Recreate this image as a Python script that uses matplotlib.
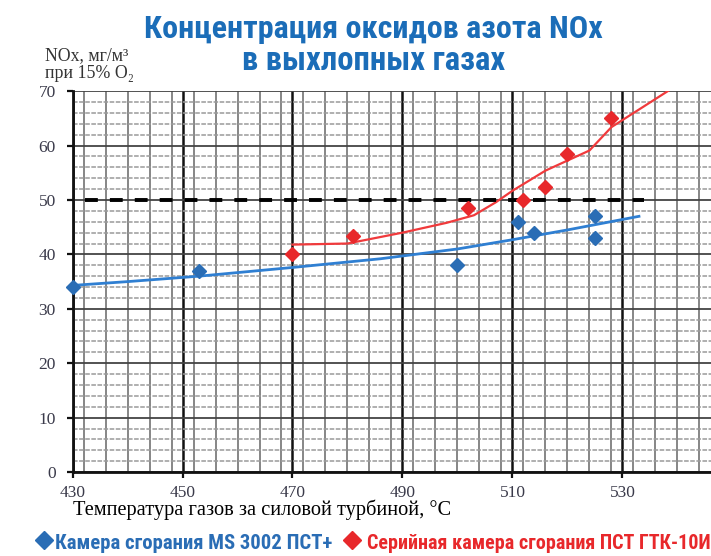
import matplotlib
matplotlib.use("Agg")
import matplotlib.pyplot as plt
import matplotlib.font_manager as fm
from matplotlib.lines import Line2D
from matplotlib.ticker import MultipleLocator

# --- data ---
blue_x = [430, 453, 500, 511, 514, 525, 525]
blue_y = [34.0, 37.0, 38.0, 46.0, 44.0, 47.0, 43.0]

red_x = [470, 481, 502, 512, 516, 520, 528]
red_y = [40.0, 43.4, 48.6, 50.0, 52.3, 58.5, 65.0]

# trend curves
blue_line_x = [430, 440, 453, 470, 486, 500, 510, 520, 533]
blue_line_y = [34.3, 35.0, 36.0, 37.6, 39.2, 41.0, 42.7, 44.5, 47.0]

red_line_x = [470, 480, 490, 498, 503, 507, 510, 516, 524, 528, 539]
red_line_y = [41.8, 42.0, 44.0, 45.8, 47.2, 49.6, 51.7, 55.4, 59.1, 63.4, 70.5]

limit_y = 50
limit_x = [432.3, 534]

x_ticks = [430, 450, 470, 490, 510, 530]
y_ticks = [0, 10, 20, 30, 40, 50, 60, 70]

title_color = '#1b6db8'
blue = '#2a6db5'
red = '#e8282b'

# pick a condensed sans with Cyrillic, whatever is installed
installed = {f.name for f in fm.fontManager.ttflist}
narrow = [n for n in ['Roboto Condensed', 'PT Sans Narrow', 'Fira Sans Condensed',
                      'Open Sans Condensed', 'Liberation Sans Narrow',
                      'Sofia Sans Condensed'] if n in installed][:1] + ['DejaVu Sans']
serif = ['Liberation Serif', 'DejaVu Serif']

fig = plt.figure(figsize=(7.11, 5.56), dpi=100)
ax = fig.add_axes([0.102, 0.151, 0.898, 0.685])

ax.set_xlim(430, 546.1)
ax.set_ylim(0, 70)

ax.xaxis.set_minor_locator(MultipleLocator(4))
ax.yaxis.set_minor_locator(MultipleLocator(2))
ax.set_xticks(x_ticks)
ax.set_yticks(y_ticks)

ax.xaxis.grid(True, which='major', color='#111111', lw=1.8)
ax.xaxis.grid(True, which='minor', color='#666666', lw=1.1)
ax.yaxis.grid(True, which='major', color='#444444', lw=1.3)
ax.yaxis.grid(True, which='minor', color='#9a9a9a', lw=1.1, ls=(0, (3, 1)))
ax.set_axisbelow(True)

for s in ['top', 'right']:
    ax.spines[s].set_visible(False)
for s in ['left', 'bottom']:
    ax.spines[s].set_linewidth(2)
    ax.spines[s].set_color('#111111')

ax.tick_params(which='major', length=4, width=1.6, color='#111111', pad=5,
               labelsize=12.5, labelcolor='#3a3a4a')
ax.tick_params(axis='y', pad=8)
ax.tick_params(which='minor', length=0)
for lab in ax.get_xticklabels() + ax.get_yticklabels():
    lab.set_family(serif)

# lines and points
ax.plot(blue_line_x, blue_line_y, color='#2f7fd2', lw=2.0, zorder=3)
ax.plot(red_line_x, red_line_y, color='#f03a3c', lw=1.6, zorder=3)
ax.hlines(limit_y, limit_x[0], limit_x[1], color='black', lw=2.8,
          linestyles=(0, (3.3, 3.1)), zorder=3)
ax.plot(blue_x, blue_y, 'D', color=blue, ms=7, zorder=4, clip_on=False)
ax.plot(red_x, red_y, 'D', color=red, ms=7, zorder=4, clip_on=False)

# titles and labels
t1 = fig.text(0.525, 0.932, 'Концентрация оксидов азота NOx', ha='center',
              va='baseline', fontsize=22, fontweight='bold', color=title_color,
              family=narrow)
t2 = fig.text(0.525, 0.874, 'в выхлопных газах', ha='center', va='baseline',
              fontsize=22, fontweight='bold', color=title_color, family=narrow)

fig.text(0.063, 0.892, 'NOx, мг/м³', ha='left', va='baseline', fontsize=12.8,
         color='#333333', family=serif)
fig.text(0.063, 0.860, 'при 15% O₂', ha='left', va='baseline', fontsize=12.8,
         color='#333333', family=serif)

xl = fig.text(0.102, 0.074, 'Температура газов за силовой турбиной, °С',
              ha='left', va='baseline', fontsize=14.5, color='black',
              family=serif)

# bottom legend
fig.add_artist(Line2D([0.0619], [0.0288], marker='D', ms=8.8, color=blue,
                      transform=fig.transFigure))
fig.add_artist(Line2D([0.495], [0.0288], marker='D', ms=8.8, color=red,
                      transform=fig.transFigure))
lb = fig.text(0.077, 0.0126, 'Камера сгорания MS 3002 ПСТ+', ha='left',
              va='baseline', fontsize=13, fontweight='bold', color=blue,
              family=narrow)
lr = fig.text(0.516, 0.0126, 'Серийная камера сгорания ПСТ ГТК-10И', ha='left',
              va='baseline', fontsize=13, fontweight='bold', color=red,
              family=narrow)

# size the texts to the widths they take in the original picture
renderer = fig.canvas.get_renderer()
for txt, width_px in [(t1, 457), (t2, 262), (xl, 379), (lb, 277), (lr, 343)]:
    w = txt.get_window_extent(renderer).width
    txt.set_fontsize(txt.get_fontsize() * width_px / w)

fig.savefig('out.png', dpi=100)
